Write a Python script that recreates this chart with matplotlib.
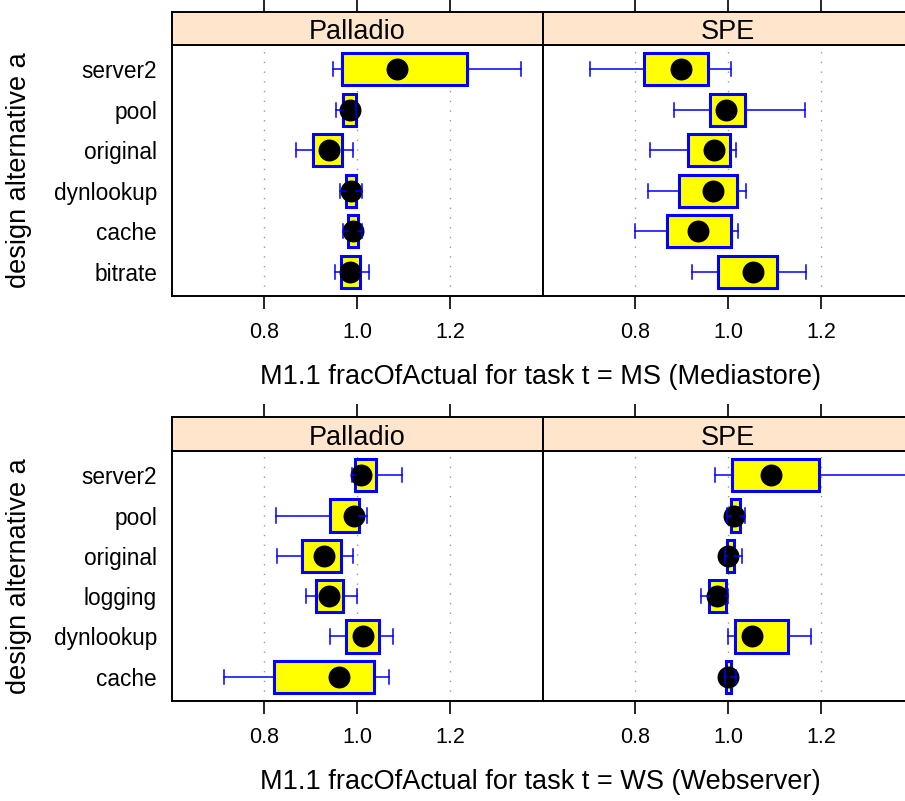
import matplotlib.pyplot as plt

plt.rcParams['font.family'] = ['Liberation Sans', 'DejaVu Sans']

# categories top to bottom
ms_categories = ['server2', 'pool', 'original', 'dynlookup', 'cache', 'bitrate']
ws_categories = ['server2', 'pool', 'original', 'logging', 'dynlookup', 'cache']
tool_names = ['Palladio', 'SPE']
x_ticks = [0.8, 1.0, 1.2]
x_tick_labels = ['0.8', '1.0', '1.2']

# (whisker low, lower hinge, median, upper hinge, whisker high) per category
ms_palladio = [(0.948, 0.967, 1.085, 1.237, 1.353),
               (0.954, 0.970, 0.984, 0.997, 0.997),
               (0.868, 0.904, 0.939, 0.967, 0.991),
               (0.962, 0.976, 0.986, 0.998, 1.010),
               (0.969, 0.980, 0.991, 1.001, 1.010),
               (0.952, 0.965, 0.984, 1.006, 1.025)]
ms_spe = [(0.702, 0.818, 0.898, 0.956, 1.007),
          (0.883, 0.961, 0.996, 1.036, 1.166),
          (0.832, 0.914, 0.970, 1.004, 1.017),
          (0.828, 0.894, 0.968, 1.019, 1.039),
          (0.798, 0.869, 0.934, 1.006, 1.021),
          (0.922, 0.979, 1.053, 1.106, 1.168)]
ws_palladio = [(0.989, 0.996, 1.009, 1.040, 1.096),
               (0.824, 0.941, 0.994, 1.004, 1.022),
               (0.826, 0.882, 0.929, 0.965, 0.991),
               (0.890, 0.911, 0.940, 0.969, 1.000),
               (0.941, 0.976, 1.012, 1.048, 1.077),
               (0.712, 0.821, 0.961, 1.036, 1.069)]
ws_spe = [(0.971, 1.009, 1.092, 1.196, 1.450),
          (0.998, 1.005, 1.013, 1.026, 1.036),
          (0.993, 0.998, 1.000, 1.013, 1.029),
          (0.941, 0.958, 0.976, 0.996, 1.000),
          (1.000, 1.015, 1.051, 1.128, 1.179),
          (0.993, 0.996, 1.000, 1.006, 1.016)]

W, H = 905, 801
fig = plt.figure(figsize=(W / 100, H / 100), dpi=100)


def frac(left, top, width, height):
    return [left / W, 1 - (top + height) / H, width / W, height / H]


def draw_row(strip_top, strip_bot, panel_bot, cats, panels, xlabel):
    n = len(cats)
    ypos = list(range(n, 0, -1))
    for i, (name, stats) in enumerate(zip(tool_names, panels)):
        left = 171.7 + i * 371
        ax = fig.add_axes(frac(left, strip_bot, 371, panel_bot - strip_bot))
        bx = [dict(whislo=s[0], q1=s[1], med=s[2], q3=s[3], whishi=s[4], fliers=[])
              for s in stats]
        ax.bxp(bx, positions=ypos, widths=0.8, capwidths=0.35, orientation='horizontal',
               patch_artist=True, showfliers=False,
               boxprops=dict(facecolor='#ffff00', edgecolor='#0000ff', linewidth=2.2, zorder=2),
               whiskerprops=dict(color='#0000ff', linewidth=1.1, zorder=4),
               capprops=dict(color='#0000ff', linewidth=1.1, zorder=4),
               medianprops=dict(visible=False))
        ax.plot([s[2] for s in stats], ypos, 'o', color='black', markersize=15.8,
                markeredgewidth=0, zorder=3)
        ax.set_xlim(0.6, 1.4)
        ax.set_ylim(0.4, n + 0.6)
        ax.set_xticks(x_ticks)
        ax.set_xticklabels(x_tick_labels)
        ax.grid(axis='x', linestyle=(0, (1, 6)), color='#999999', linewidth=1)
        ax.set_axisbelow(True)
        ax.tick_params(axis='x', direction='out', length=9.4, width=1.2, pad=9.5,
                       labelsize=15.5)
        if i == 0:
            ax.set_yticks(ypos)
            ax.set_yticklabels(cats)
            ax.tick_params(axis='y', length=0, pad=10.6, labelsize=16.3)
        else:
            ax.set_yticks([])
        for sp in ax.spines.values():
            sp.set_linewidth(1.4)

        st = fig.add_axes(frac(left, strip_top, 371, strip_bot - strip_top))
        st.set_facecolor('#ffe5cc')
        st.set_xlim(0.6, 1.4)
        st.set_ylim(0, 1)
        st.set_xticks(x_ticks)
        st.set_yticks([])
        st.tick_params(axis='x', top=True, bottom=False, labelbottom=False,
                       direction='out', length=9.4, width=1.2)
        for sp in st.spines.values():
            sp.set_linewidth(1.4)
        st.text(0.5, 0.18, name, transform=st.transAxes, ha='center', va='baseline',
                fontsize=19.5)

    fig.text(19 / W, 1 - (strip_bot + panel_bot) / 2 / H, 'design alternative a',
             rotation=90, ha='center', va='center', fontsize=19.5)
    fig.text(540 / W, 1 - (panel_bot + 88) / H, xlabel, ha='center', va='baseline',
             fontsize=19.5)


draw_row(12, 45, 296, ms_categories, [ms_palladio, ms_spe],
         'M1.1 fracOfActual for task t = MS (Mediastore)')
draw_row(417, 451, 701, ws_categories, [ws_palladio, ws_spe],
         'M1.1 fracOfActual for task t = WS (Webserver)')

fig.savefig('out.png', dpi=100)
